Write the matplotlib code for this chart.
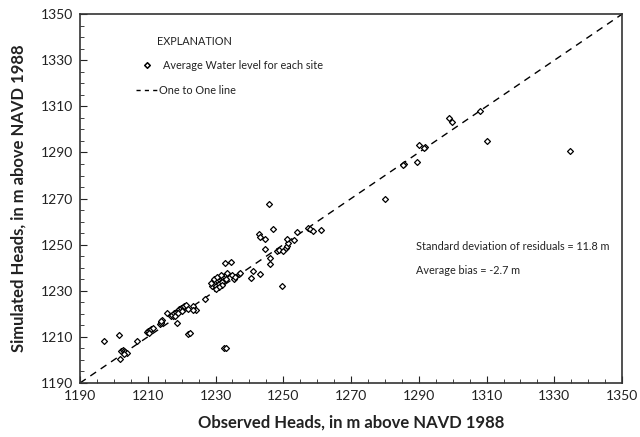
import matplotlib.pyplot as plt
from matplotlib.ticker import MultipleLocator

plt.rcParams['font.family'] = ['Lato', 'DejaVu Sans']

# observed vs simulated heads
observed = [
    1197.2, 1201.4, 1201.8,
    1202.2, 1202.6, 1203.0, 1203.4, 1203.8, 1202.9,
    1206.9,
    1209.8, 1210.2, 1210.6, 1211.0, 1211.4, 1210.4,
    1213.6, 1214.0, 1214.3, 1213.8, 1213.8,
    1215.8, 1218.7,
    1216.8, 1217.3, 1217.8, 1218.3, 1218.8, 1219.3, 1219.8, 1220.3, 1220.8,
    1218.0, 1219.0, 1220.0, 1221.2,
    1222.0, 1222.4, 1222.0, 1223.4, 1224.2, 1223.3, 1226.9,
    1229.0, 1229.5, 1230.0, 1230.5, 1231.0, 1231.5, 1232.0, 1232.5, 1233.0,
    1233.3, 1230.0, 1231.0, 1232.0, 1229.5, 1230.5, 1231.5, 1228.8, 1232.0,
    1233.0, 1231.0, 1230.0,
    1232.9, 1234.5, 1232.5, 1233.0,
    1234.8, 1235.6, 1237.0, 1237.2, 1235.8,
    1240.5, 1241.2, 1243.2, 1246.1, 1246.1,
    1245.7, 1247.1, 1242.9, 1243.1, 1244.5, 1244.7,
    1248.1, 1248.8, 1249.8, 1250.8, 1251.2, 1251.5, 1251.0, 1253.3, 1254.0,
    1257.4, 1257.9, 1258.7, 1261.1, 1249.5,
    1279.9, 1285.6, 1285.3, 1289.4, 1290.1, 1291.8, 1291.5,
    1298.9, 1299.7, 1308.0, 1310.0, 1334.6,
]
simulated = [
    1208.2, 1210.7, 1200.5,
    1203.8, 1204.4, 1204.0, 1203.4, 1203.2, 1202.6,
    1208.1,
    1212.0, 1212.4, 1212.8, 1213.3, 1213.8, 1211.8,
    1215.5, 1216.5, 1217.2, 1216.0, 1217.0,
    1220.5, 1216.1,
    1219.0, 1219.6, 1220.2, 1220.8, 1221.3, 1221.9, 1222.4, 1223.0, 1223.6,
    1219.2, 1220.2, 1221.2, 1223.8,
    1211.4, 1211.6, 1222.1, 1223.4, 1221.7, 1221.7, 1226.3,
    1232.0, 1233.0, 1234.0, 1234.5, 1235.0, 1235.5, 1236.0, 1236.5, 1237.0,
    1237.7, 1232.0, 1233.0, 1234.0, 1235.0, 1236.0, 1237.0, 1233.5, 1232.5,
    1235.0, 1231.5, 1230.8,
    1241.9, 1242.6, 1205.3, 1205.3,
    1236.8, 1235.0, 1237.3, 1237.6, 1235.8,
    1235.4, 1238.7, 1237.3, 1244.1, 1241.6,
    1267.5, 1256.8, 1254.6, 1253.2, 1252.3, 1248.2,
    1247.4, 1247.7, 1247.4, 1248.4, 1249.4, 1250.6, 1252.4, 1252.0, 1255.6,
    1257.3, 1256.8, 1255.9, 1256.2, 1232.1,
    1269.7, 1284.8, 1284.5, 1286.0, 1293.1, 1292.5, 1291.8,
    1305.0, 1303.2, 1308.0, 1295.0, 1290.6,
]
line_range = [1190, 1350]
tick_values = list(range(1190, 1351, 20))

fig = plt.figure(figsize=(6.4, 4.37), dpi=100)
ax = fig.add_axes([0.125, 0.1236, 0.847, 0.844])

ax.plot(line_range, line_range, color='black', lw=1, linestyle=(0, (5, 4)))
ax.scatter(observed, simulated, marker='D', s=9, facecolors='white',
           edgecolors='black', linewidths=0.9, zorder=3)

ax.set_xlim(1190, 1350)
ax.set_ylim(1190, 1350)
ax.set_xticks(tick_values)
ax.set_yticks(tick_values)
ax.xaxis.set_minor_locator(MultipleLocator(5))
ax.yaxis.set_minor_locator(MultipleLocator(5))
ax.tick_params(which='both', direction='in', top=False, right=False,
               labelsize=10, colors='#222222')
ax.tick_params(which='major', length=5, pad=5)
ax.tick_params(which='minor', length=3)
for s in ax.spines.values():
    s.set_color('#333333')
    s.set_linewidth(1.2)

ax.set_xlabel('Observed Heads, in m above NAVD 1988', fontsize=12,
              fontweight='bold', color='#222222', labelpad=9)
ax.set_ylabel('Simulated Heads, in m above NAVD 1988', fontsize=12,
              fontweight='bold', color='#222222', labelpad=10)

# explanation box
ax.text(0.142, 0.927, 'EXPLANATION', transform=ax.transAxes, fontsize=7.8,
        va='center', color='#222222')
ax.scatter([0.124], [0.862], transform=ax.transAxes, marker='D', s=8,
           facecolors='white', edgecolors='black', linewidths=1.1)
ax.text(0.153, 0.862, 'Average Water level for each site', transform=ax.transAxes,
        fontsize=7.8, va='center', color='#222222')
ax.plot([0.103, 0.144], [0.794, 0.794], transform=ax.transAxes, color='black',
        lw=1, linestyle=(0, (3, 3)))
ax.text(0.146, 0.794, 'One to One line', transform=ax.transAxes, fontsize=7.8,
        va='center', color='#222222')

ax.text(0.62, 0.369, 'Standard deviation of residuals = 11.8 m',
        transform=ax.transAxes, fontsize=7.8, va='center', color='#222222')
ax.text(0.62, 0.304, 'Average bias = -2.7 m', transform=ax.transAxes,
        fontsize=7.8, va='center', color='#222222')

fig.savefig('out.png', dpi=100)
